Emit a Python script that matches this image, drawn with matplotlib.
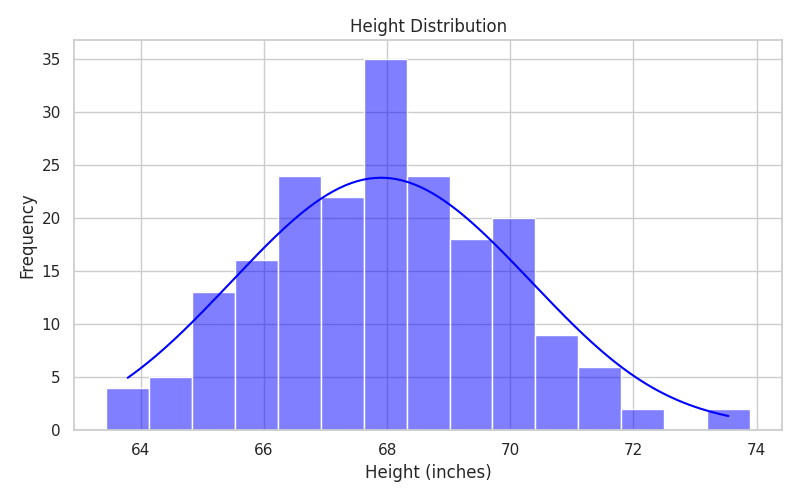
import numpy as np
import matplotlib
matplotlib.use("Agg")
import matplotlib.pyplot as plt
import seaborn as sns

# bin edges and counts
bin_start = 63.44
bin_end = 73.89
counts = [4, 5, 13, 16, 24, 22, 35, 24, 18, 20, 9, 6, 2, 0, 2]

edges = np.linspace(bin_start, bin_end, len(counts) + 1)
centers = (edges[:-1] + edges[1:]) / 2

sns.set_theme(style="whitegrid")
fig, ax = plt.subplots(figsize=(8, 5), dpi=100)
sns.histplot(x=list(centers), weights=list(counts), bins=len(counts),
             binrange=(bin_start, bin_end), kde=True, color="blue",
             alpha=0.5, edgecolor="white", ax=ax)
ax.set_title("Height Distribution")
ax.set_xlabel("Height (inches)")
ax.set_ylabel("Frequency")
plt.tight_layout()
plt.savefig("out.png")
